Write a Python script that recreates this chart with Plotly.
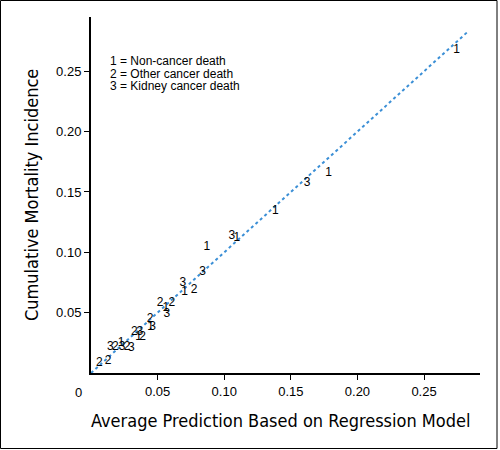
import plotly.graph_objects as go

# Group 1 = Non-cancer death
x1 = [0.0226, 0.0358, 0.0447, 0.0561, 0.0702, 0.0870, 0.1095, 0.1383, 0.1784, 0.2744]
y1 = [0.0246, 0.0301, 0.0379, 0.0536, 0.0674, 0.1047, 0.1122, 0.1343, 0.1656, 0.2673]
# Group 2 = Other cancer death
x2 = [0.0062, 0.0128, 0.0183, 0.0271, 0.0326, 0.0388, 0.0444, 0.0519, 0.0606, 0.0774]
y2 = [0.0080, 0.0102, 0.0213, 0.0213, 0.0337, 0.0301, 0.0445, 0.0583, 0.0578, 0.0688]
# Group 3 = Kidney cancer death
x3 = [0.0145, 0.0233, 0.0303, 0.0366, 0.0462, 0.0569, 0.0689, 0.0837, 0.1058, 0.1622]
y3 = [0.0218, 0.0213, 0.0205, 0.0337, 0.0379, 0.0487, 0.0744, 0.0835, 0.1136, 0.1573]

ref_line = [0.0, 0.283]
tick_vals = [0.05, 0.10, 0.15, 0.20, 0.25]
tick_text = ["0.05", "0.10", "0.15", "0.20", "0.25"]
legend_lines = ["1 = Non-cancer death", "2 = Other cancer death", "3 = Kidney cancer death"]
x_title = "Average Prediction Based on Regression Model"
y_title = "Cumulative Mortality Incidence"

W, H = 500, 450
L, R, T, B = 91, 20, 17, 77
PW, PH = W - L - R, H - T - B

fig = go.Figure()
fig.add_trace(go.Scatter(x=ref_line, y=ref_line, mode="lines",
                         line=dict(color="#3b8fd6", width=2, dash="3px,3px"),
                         hoverinfo="skip", showlegend=False))
tfont = dict(family="Liberation Sans, Arial, sans-serif", size=12, color="black")
for xs, ys, lab in [(x1, y1, "1"), (x2, y2, "2"), (x3, y3, "3")]:
    fig.add_trace(go.Scatter(x=xs, y=ys, mode="text", text=[lab] * len(xs),
                             textposition="middle center", textfont=tfont,
                             showlegend=False))

axis_common = dict(showline=True, linecolor="black", linewidth=2, ticks="outside",
                   ticklen=5, tickwidth=1, tickcolor="black", showgrid=False,
                   zeroline=False, tickvals=tick_vals, ticktext=tick_text, automargin=False,
                   tickfont=dict(family="Liberation Sans, Arial, sans-serif", size=13, color="black"))
title_font = dict(family="DejaVu Sans Condensed, Liberation Sans Narrow, Liberation Sans, sans-serif",
                  size=18, color="black")
legend_font = dict(family="Liberation Sans, Arial, sans-serif", size=12, color="black")

annotations = [
    dict(x=0, y=0, xref="x", yref="y", text="0", showarrow=False, xshift=-13, yshift=-19,
         font=dict(family="Liberation Sans, Arial, sans-serif", size=13, color="black")),
    dict(x=(280 - L) / PW, y=(T + PH - 420) / PH, xref="paper", yref="paper", text=x_title,
         showarrow=False, xanchor="center", yanchor="middle", font=title_font),
    dict(x=(31 - L) / PW, y=(T + PH - 195) / PH, xref="paper", yref="paper", text=y_title,
         showarrow=False, xanchor="center", yanchor="middle", textangle=-90, font=title_font),
]
for i, line in enumerate(legend_lines):
    annotations.append(dict(x=(108 - L) / PW, y=(T + PH - (61 + 12.5 * i)) / PH,
                            xref="paper", yref="paper", text=line, showarrow=False,
                            xanchor="left", yanchor="middle", font=legend_font))

fig.update_layout(
    width=W, height=H,
    margin=dict(l=L, r=R, t=T, b=B, autoexpand=False),
    paper_bgcolor="white", plot_bgcolor="white",
    xaxis=dict(range=[0, 0.292], **axis_common),
    yaxis=dict(range=[0, 0.295], **axis_common),
    annotations=annotations,
    shapes=[dict(type="rect", xref="paper", yref="paper",
                 x0=(0.5 - L) / PW, x1=(497 - L) / PW, y0=(T + PH - 448.5) / PH, y1=(T + PH - 0.5) / PH,
                 line=dict(color="black", width=1))],
)

fig.write_html("out.html", config={"displayModeBar": False},
               post_script="document.body.style.margin='0';")
